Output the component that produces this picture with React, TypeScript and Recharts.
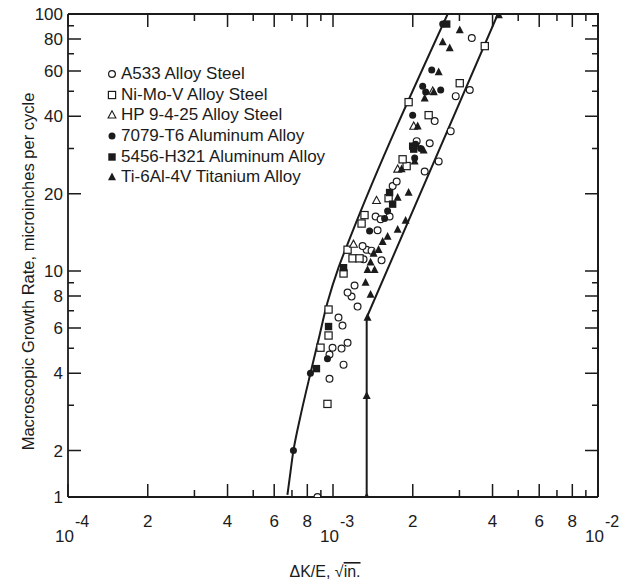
import React from 'react';
import { ScatterChart, Scatter, XAxis, YAxis, Legend } from 'recharts';

const ink = '#1b1b1b';
const font = '"Liberation Sans", Arial, sans-serif';

// plot frame in page pixels (chart margins + axis sizes below)
const plotTop = 14;
const plotRight = 598;

const xTicks = [
  0.0001, 0.0002, 0.0003, 0.0004, 0.0005, 0.0006, 0.0007, 0.0008, 0.0009,
  0.001, 0.002, 0.003, 0.004, 0.005, 0.006, 0.007, 0.008, 0.009, 0.01,
];
const xTickLabels = ['10|-4', '2', '', '4', '', '6', '', '8', '', '10|-3', '2', '', '4', '', '6', '', '8', '', '10|-2'];
// the printed scale runs out at the bottom frame line, which the source labels "1"
const yBottom = 1.32;
const yTicks = [yBottom, 2, 3, 4, 5, 6, 7, 8, 9, 10, 20, 30, 40, 50, 60, 70, 80, 90, 100];
const yTickLabels = ['1', '2', '', '4', '', '6', '', '8', '', '10', '20', '', '40', '', '60', '', '80', '', '100'];

const seriesNames = [
  'A533 Alloy Steel',
  'Ni-Mo-V Alloy Steel',
  'HP 9-4-25 Alloy Steel',
  '7079-T6 Aluminum Alloy',
  '5456-H321 Aluminum Alloy',
  'Ti-6Al-4V Titanium Alloy',
];

// [ΔK/E, growth rate]
const a533: [number, number][] = [
  [0.000874, 1.32], [0.00097, 3.81], [0.001096, 4.32], [0.00097, 4.73], [0.000996, 5.03],
  [0.001077, 4.99], [0.001135, 5.26], [0.001086, 6.13], [0.001049, 6.59], [0.001238, 7.27],
  [0.001175, 7.95], [0.001135, 8.24], [0.001206, 8.78], [0.001304, 11.1], [0.001525, 11.0],
  [0.001339, 12.1], [0.001398, 12.0], [0.001293, 12.5], [0.001473, 14.4], [0.001448, 16.3],
  [0.001512, 15.9], [0.001635, 16.3], [0.001679, 21.4], [0.001739, 22.3], [0.002218, 24.4],
  [0.002505, 26.7], [0.002069, 32.0], [0.002317, 31.4], [0.002781, 35.0], [0.002419, 38.3],
  [0.002905, 47.9], [0.003282, 50.6], [0.00334, 80.6],
];
const niMoV: [number, number][] = [
  [0.000953, 3.04], [0.000897, 5.03], [0.000962, 5.61], [0.000962, 7.08], [0.001096, 9.78],
  [0.001185, 11.2], [0.001259, 11.2], [0.001135, 12.1], [0.001282, 15.3], [0.001315, 16.5],
  [0.001621, 19.2], [0.001896, 25.6], [0.001831, 27.2], [0.001929, 45.4], [0.002296, 40.4],
  [0.003008, 53.8], [0.003739, 75.0],
];
const hp9425: [number, number][] = [
  [0.001195, 12.7], [0.00146, 18.8], [0.001754, 24.9], [0.002016, 36.6], [0.002378, 50.1],
];
const al7079: [number, number][] = [
  [0.000709, 2.0], [0.000822, 4.0], [0.000953, 4.56], [0.001374, 14.3], [0.001566, 16.0],
  [0.001607, 17.1], [0.002033, 27.5], [0.002051, 31.1], [0.002142, 30.0], [0.001998, 40.4],
  [0.00218, 52.4], [0.002237, 49.7], [0.002549, 50.6], [0.002358, 60.5], [0.002594, 91.4],
];
const al5456: [number, number][] = [
  [0.000866, 4.17], [0.000962, 6.08], [0.001096, 10.3], [0.001679, 18.2], [0.001635, 20.2],
  [0.001998, 30.6], [0.002016, 29.8], [0.002686, 91.4],
];
const ti64: [number, number][] = [
  [0.00134, 1.32], [0.00134, 3.27], [0.00135, 6.59], [0.001386, 8.1], [0.001327, 9.02],
  [0.00135, 10.1], [0.001435, 10.1], [0.001386, 10.8], [0.001423, 11.7], [0.001486, 12.1],
  [0.001539, 13.0], [0.001607, 13.6], [0.001754, 14.5], [0.001879, 15.7], [0.001754, 19.3],
  [0.001929, 20.2], [0.001815, 24.9], [0.002033, 26.7], [0.002198, 29.5], [0.002087, 36.6],
  [0.002218, 47.0], [0.002399, 49.7], [0.002505, 59.4], [0.002594, 77.8], [0.002757, 73.7],
  [0.003008, 86.6], [0.004224, 99.1],
];

// scatter band limits
const leftBound: [number, number][] = [
  [0.000673, 1.345], [0.000691, 1.65], [0.000709, 2.0], [0.00076, 2.83], [0.000822, 4.0],
  [0.000882, 5.41], [0.000953, 7.54], [0.001049, 10.3], [0.001164, 13.6], [0.002709, 100],
];
const rightBound: [number, number][] = [
  [0.00134, 1.32], [0.00134, 6.59], [0.00419, 100],
];

const pts = (arr: [number, number][]) => arr.map(([x, y]) => ({ x, y }));

const openCircle = ({ cx, cy }: any) => <circle cx={cx} cy={cy} r={3.4} fill="#fff" stroke={ink} strokeWidth={1.2} />;
const openSquare = ({ cx, cy }: any) => <rect x={cx - 3.6} y={cy - 3.6} width={7.2} height={7.2} fill="#fff" stroke={ink} strokeWidth={1.2} />;
const openTri = ({ cx, cy }: any) => (
  <polygon points={`${cx},${cy - 4.2} ${cx - 3.9},${cy + 3} ${cx + 3.9},${cy + 3}`} fill="#fff" stroke={ink} strokeWidth={1.1} />
);
const dot = ({ cx, cy }: any) => <circle cx={cx} cy={cy} r={3.5} fill={ink} />;
const solidSquare = ({ cx, cy }: any) => <rect x={cx - 3.7} y={cy - 3.7} width={7.4} height={7.4} fill={ink} />;
const solidTri = ({ cx, cy }: any) => (
  <polygon points={`${cx},${cy - 4.6} ${cx - 4},${cy + 3.2} ${cx + 4},${cy + 3.2}`} fill={ink} />
);
const noShape = () => <g />;

const markers = [openCircle, openSquare, openTri, dot, solidSquare, solidTri];
const seriesData = [a533, niMoV, hp9425, al7079, al5456, ti64];

const tickLabel = (v: number, list: number[], labels: string[]) => labels[list.indexOf(v)] ?? '';

// bottom axis tick, mirrored on the top frame line
const BottomTick = (props: any) => {
  const { x, y, payload } = props;
  const label = tickLabel(payload.value, xTicks, xTickLabels);
  const len = label ? 13 : 7;
  const [base, exp] = label.split('|');
  return (
    <g>
      <path d={`M${x},${y}V${y - len}M${x},${plotTop}V${plotTop + len}`} stroke={ink} strokeWidth={1.5} fill="none" />
      {exp ? (
        <g fontFamily={font} fill={ink}>
          <text x={x + 6} y={y + 45} textAnchor="end" fontSize={17}>{base}</text>
          <text x={x + 7} y={y + 30} fontSize={16}>{exp}</text>
        </g>
      ) : label ? (
        <text x={x} y={y + 30} textAnchor="middle" fontSize={17} fontFamily={font} fill={ink}>{label}</text>
      ) : null}
    </g>
  );
};

// left axis tick, mirrored on the right frame line
const LeftTick = (props: any) => {
  const { x, y, payload } = props;
  const label = tickLabel(payload.value, yTicks, yTickLabels);
  const len = label ? 13 : 6;
  return (
    <g>
      <path d={`M${x},${y}H${x + len}M${plotRight},${y}H${plotRight - len}`} stroke={ink} strokeWidth={1.5} fill="none" />
      {label && (
        <text x={x - 5} y={y + 6} textAnchor="end" fontSize={17} fontFamily={font} fill={ink}>{label}</text>
      )}
    </g>
  );
};

const legendContent = () => (
  <div style={{ fontFamily: font, fontSize: 17, color: ink }}>
    {seriesNames.map((name, i) => (
      <div key={name} style={{ display: 'flex', alignItems: 'center', height: 20.6, whiteSpace: 'nowrap' }}>
        <svg width={10} height={10} style={{ marginRight: 4 }}>
          {markers[i]({ cx: 5, cy: 5 })}
        </svg>
        <span>{name}</span>
      </div>
    ))}
  </div>
);

const axisLine = { stroke: ink, strokeWidth: 1.8 };

export default function App() {
  return (
    <div style={{ width: 619, height: 582, background: '#fff' }}>
      <style>{'body{margin:0;background:#fff}'}</style>
      <ScatterChart width={619} height={582} margin={{ top: plotTop, right: 619 - plotRight, left: 0, bottom: 0 }}>
        <XAxis
          xAxisId="b"
          dataKey="x"
          type="number"
          scale="log"
          domain={[0.0001, 0.01]}
          ticks={xTicks}
          interval={0}
          allowDataOverflow
          height={85}
          tickSize={0}
          tickMargin={0}
          tickLine={false}
          axisLine={axisLine}
          tick={<BottomTick />}
          label={{
            content: (p: any) => {
              const vb = p.viewBox;
              const cx = vb.x + vb.width / 2 - 8;
              return (
                <g>
                  {/* top and right sides of the frame */}
                  <path
                    d={`M${vb.x},${plotTop}H${vb.x + vb.width}V${vb.y}`}
                    stroke={ink}
                    strokeWidth={2}
                    fill="none"
                  />
                  <text x={cx} y={vb.y + 80} textAnchor="middle" fontSize={16} fontFamily={font} fill={ink}>
                    <tspan>{'\u0394K/E,  \u221A'}</tspan>
                    <tspan style={{ textDecoration: 'overline' }}>in.</tspan>
                  </text>
                </g>
              );
            },
          }}
        />
        <YAxis
          yAxisId="l"
          dataKey="y"
          type="number"
          scale="log"
          domain={[yBottom, 100]}
          ticks={yTicks}
          interval={0}
          allowDataOverflow
          width={68}
          tickSize={0}
          tickMargin={0}
          tickLine={false}
          axisLine={axisLine}
          tick={<LeftTick />}
          label={{
            content: (p: any) => {
              const vb = p.viewBox;
              const cx = vb.x + 28;
              const cy = vb.y + vb.height / 2 + 16;
              return (
                <text
                  x={cx}
                  y={cy}
                  transform={`rotate(-90 ${cx} ${cy})`}
                  textAnchor="middle"
                  dominantBaseline="central"
                  fontSize={16.5}
                  fontFamily={font}
                  fill={ink}
                >
                  Macroscopic Growth Rate, microinches per cycle
                </text>
              );
            },
          }}
        />
        <Legend
          layout="horizontal"
          align="center"
          verticalAlign="middle"
          content={legendContent}
          wrapperStyle={{ left: 107, top: 64, width: 260, height: 130 }}
        />
        <Scatter
          xAxisId="b"
          yAxisId="l"
          data={pts(leftBound)}
          line={{ stroke: ink, strokeWidth: 2 }}
          lineJointType="monotoneY"
          shape={noShape}
          legendType="none"
          isAnimationActive={false}
        />
        <Scatter
          xAxisId="b"
          yAxisId="l"
          data={pts(rightBound)}
          line={{ stroke: ink, strokeWidth: 2 }}
          shape={noShape}
          legendType="none"
          isAnimationActive={false}
        />
        {seriesData.map((d, i) => (
          <Scatter
            key={seriesNames[i]}
            name={seriesNames[i]}
            xAxisId="b"
            yAxisId="l"
            data={pts(d)}
            shape={markers[i]}
            isAnimationActive={false}
          />
        ))}
      </ScatterChart>
    </div>
  );
}
